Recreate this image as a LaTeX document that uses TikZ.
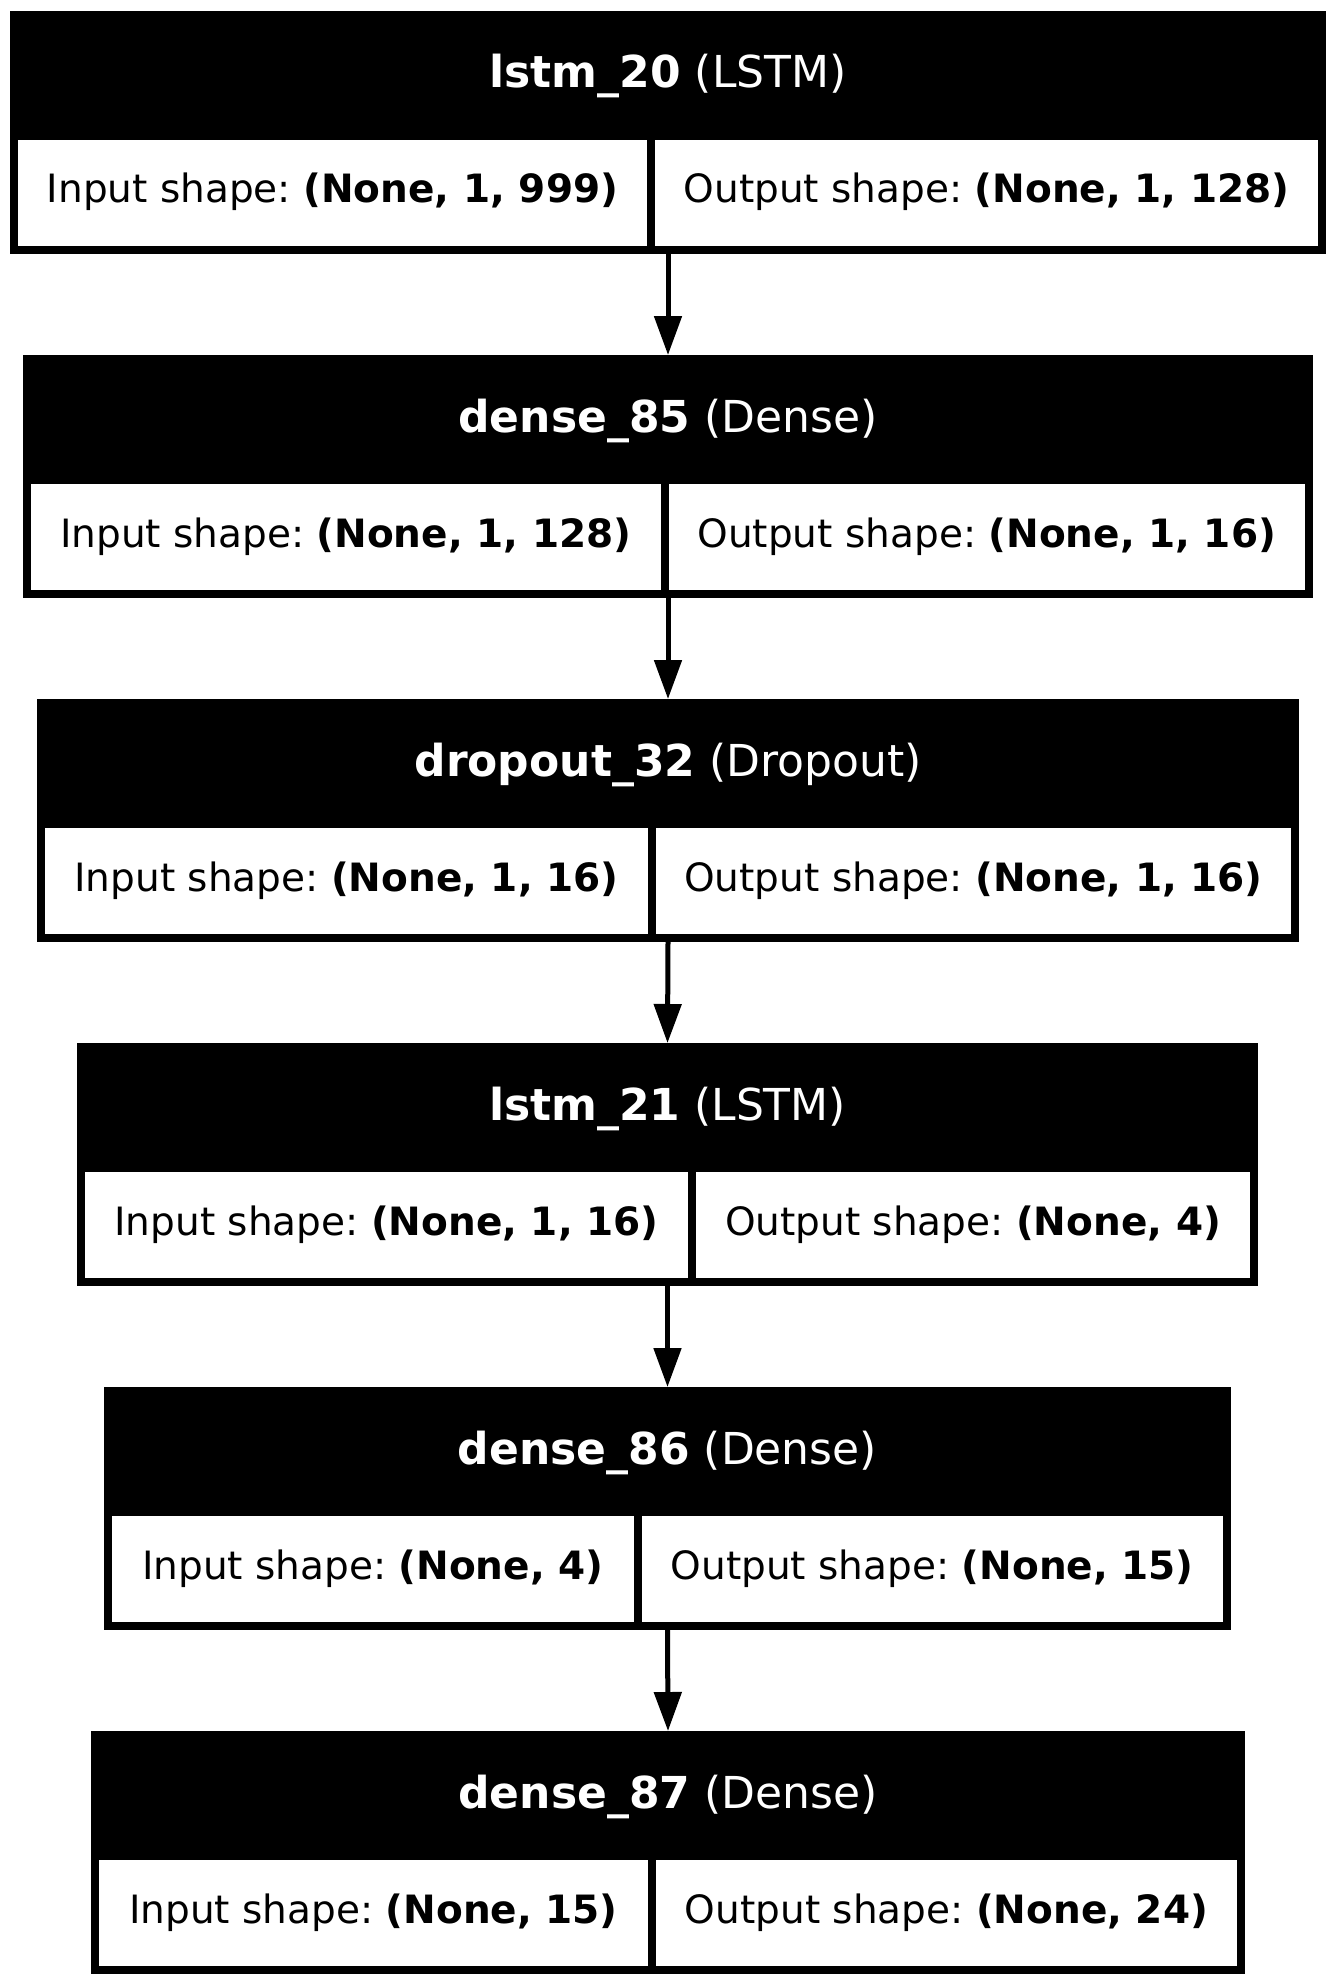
\documentclass[tikz,border=0pt]{standalone}
\usepackage{fontspec}
\setmainfont{DejaVu Sans}
\usepackage{tikz}
\usetikzlibrary{arrows.meta}

\tikzset{
  hdr/.style={fill=black, text=white, inner sep=0pt, outer sep=0pt, minimum height=129pt,
    font=\fontsize{44}{50}\selectfont, text height=35pt, text depth=10pt},
  cell/.style={draw=black, line width=8pt, fill=white, inner sep=0pt, minimum height=114pt,
    font=\fontsize{39}{46}\selectfont\frenchspacing, text height=29pt, text depth=9pt},
  conn/.style={line width=5pt, -{Triangle[length=39pt,width=27pt]}},
}

\begin{document}
\begin{tikzpicture}[x=1pt,y=-1pt]

\useasboundingbox (0,0) rectangle (1336,1985);

\begin{scope}[yshift=-11pt]
\node [hdr, minimum width=1316pt] (lstm20) at (668,64.5) {\textbf{lstm\_20} (LSTM)};
\node [cell, minimum width=637pt] (lstm20in) at (332.5,182) {Input shape: \textbf{(None, 1, 999)}};
\node [cell, minimum width=671pt] (lstm20out) at (986.5,182) {Output shape: \textbf{(None, 1, 128)}};
\end{scope}

\begin{scope}[yshift=-355pt]
\node [hdr, minimum width=1290pt] (dense85) at (668,64.5) {\textbf{dense\_85} (Dense)};
\node [cell, minimum width=637.5pt] (dense85in) at (345.75,182) {Input shape: \textbf{(None, 1, 128)}};
\node [cell, minimum width=644.5pt] (dense85out) at (986.75,182) {Output shape: \textbf{(None, 1, 16)}};
\end{scope}

\begin{scope}[yshift=-699pt]
\node [hdr, minimum width=1262pt] (dropout32) at (668,64.5) {\textbf{dropout\_32} (Dropout)};
\node [cell, minimum width=611pt] (dropout32in) at (346.5,182) {Input shape: \textbf{(None, 1, 16)}};
\node [cell, minimum width=643pt] (dropout32out) at (973.5,182) {Output shape: \textbf{(None, 1, 16)}};
\end{scope}

\begin{scope}[yshift=-1043pt]
\node [hdr, minimum width=1181pt] (lstm21) at (667.5,64.5) {\textbf{lstm\_21} (LSTM)};
\node [cell, minimum width=611pt] (lstm21in) at (386.5,182) {Input shape: \textbf{(None, 1, 16)}};
\node [cell, minimum width=562pt] (lstm21out) at (973,182) {Output shape: \textbf{(None, 4)}};
\end{scope}

\begin{scope}[yshift=-1387pt]
\node [hdr, minimum width=1127pt] (dense86) at (667.5,64.5) {\textbf{dense\_86} (Dense)};
\node [cell, minimum width=529.5pt] (dense86in) at (372.75,182) {Input shape: \textbf{(None, 4)}};
\node [cell, minimum width=589.5pt] (dense86out) at (932.25,182) {Output shape: \textbf{(None, 15)}};
\end{scope}

\begin{scope}[yshift=-1731pt]
\node [hdr, minimum width=1154pt] (dense87) at (668,64.5) {\textbf{dense\_87} (Dense)};
\node [cell, minimum width=557pt] (dense87in) at (373.5,182) {Input shape: \textbf{(None, 15)}};
\node [cell, minimum width=589pt] (dense87out) at (946.5,182) {Output shape: \textbf{(None, 24)}};
\end{scope}

% connectors
\draw [conn] (lstm20.center |- lstm20in.south) -- (dense85.north);
\draw [conn] (dense85.center |- dense85in.south) -- (dropout32.north);
\draw [conn] (dropout32.center |- dropout32in.south) -- (lstm21.north);
\draw [conn] (lstm21.center |- lstm21in.south) -- (dense86.north);
\draw [conn] (dense86.center |- dense86in.south) -- (dense87.north);

\end{tikzpicture}
\end{document}
